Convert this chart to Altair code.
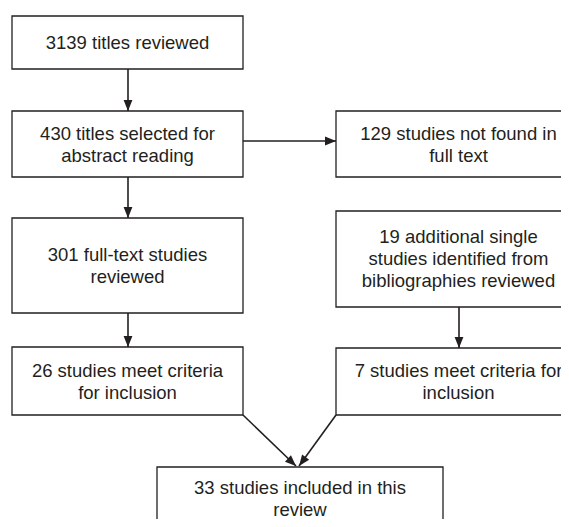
import altair as alt
import pandas as pd

# Boxes (image pixel coordinates of the flowchart layout)
box_labels = [
    "3139 titles reviewed",
    "430 titles selected for\nabstract reading",
    "301 full-text studies\nreviewed",
    "26 studies meet criteria\nfor inclusion",
    "129 studies not found in\nfull text",
    "19 additional single\nstudies identified from\nbibliographies reviewed",
    "7 studies meet criteria for\ninclusion",
    "33 studies included in this\nreview",
]
box_x1 = [12, 12, 12, 12, 336, 336, 336, 157]
box_x2 = [243, 243, 243, 243, 581, 581, 581, 443]
box_y1 = [16, 111, 218, 347, 111, 211, 348, 467]
box_y2 = [69, 177, 313, 415, 177, 307, 415, 530]
text_cy = [43, 144.5, 265.5, 381.5, 144.5, 259, 381.5, 498.5]

# Connectors: start point -> tip point, with arrowhead angle
arr_x1 = [128, 128, 128, 243, 459, 243, 336]
arr_y1 = [69, 177, 313, 141, 307, 415, 415]
arr_x2 = [128, 128, 128, 336, 459, 296, 299]
arr_y2 = [111, 218, 347, 141, 348, 466, 466]
arr_angle = [0, 0, 0, 270, 0, 313, 37]

LH = 22
boxes = pd.DataFrame({
    "label": box_labels, "x1": box_x1, "x2": box_x2, "y1": box_y1, "y2": box_y2,
    "cy": text_cy,
})
boxes["cx"] = (boxes.x1 + boxes.x2) / 2
nlines = boxes.label.str.count("\n")
boxes["ty"] = boxes.cy - nlines * LH / 2

arrows = pd.DataFrame({
    "x1": arr_x1, "y1": arr_y1, "x2": arr_x2, "y2": arr_y2, "angle": arr_angle,
})

W, H = 553, 511
xs = alt.Scale(domain=[8, 8 + W], range=[0, W])
ys = alt.Scale(domain=[8, 8 + H], range=[0, H])
INK = "#231f20"

rects = alt.Chart(boxes).mark_rect(fill="white", stroke=INK, strokeWidth=1.3).encode(
    x=alt.X("x1:Q", scale=xs, axis=None), x2="x2:Q",
    y=alt.Y("y1:Q", scale=ys, axis=None), y2="y2:Q",
)

texts = alt.Chart(boxes).mark_text(
    font="Liberation Sans", fontSize=18.5, lineHeight=LH, lineBreak="\n",
    color=INK, align="center", baseline="middle",
).encode(
    x=alt.X("cx:Q", scale=xs, axis=None), y=alt.Y("ty:Q", scale=ys, axis=None),
    text="label:N",
)

lines = alt.Chart(arrows).mark_rule(color=INK, strokeWidth=1.6).encode(
    x=alt.X("x1:Q", scale=xs, axis=None), x2="x2:Q",
    y=alt.Y("y1:Q", scale=ys, axis=None), y2="y2:Q",
)

heads = alt.Chart(arrows).mark_point(
    shape="M0,0L-0.8,-2L0.8,-2Z", filled=True, fill=INK, strokeWidth=0,
    opacity=1, size=121,
).encode(
    x=alt.X("x2:Q", scale=xs, axis=None), y=alt.Y("y2:Q", scale=ys, axis=None),
    angle=alt.Angle("angle:Q", scale=None),
)

chart = (rects + lines + heads + texts).properties(
    width=W, height=H,
    autosize=alt.AutoSizeParams(type="none"),
    padding=0,
).configure_view(strokeWidth=0, stroke="transparent").configure_axis(
    grid=False, domain=False, ticks=False, labels=False
)

chart.save("out.html", embed_options={"renderer": "svg", "actions": False})
